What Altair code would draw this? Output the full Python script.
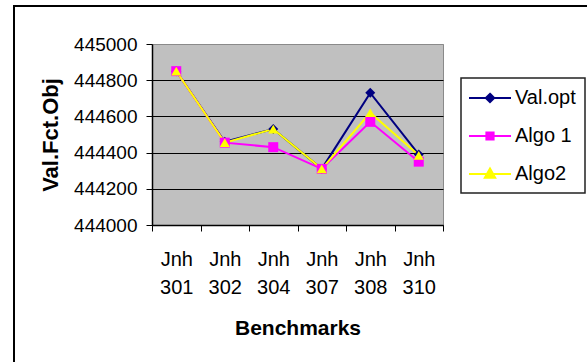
import altair as alt
import pandas as pd

# Benchmark instances and objective-function values per method
benchmarks = ["Jnh 301", "Jnh 302", "Jnh 304", "Jnh 307", "Jnh 308", "Jnh 310"]
val_opt = [444850, 444460, 444530, 444310, 444730, 444390]
algo_1 = [444850, 444455, 444430, 444310, 444570, 444350]
algo_2 = [444850, 444455, 444530, 444310, 444620, 444385]

series_names = ["Val.opt", "Algo 1", "Algo2"]
series_colors = ["#000080", "#FF00FF", "#FFFF00"]
marker_shapes = ["diamond", "square", "triangle-up"]
# legend glyphs: a short line with the marker in the middle
legend_shapes = [
    "M-2.1,0H2.1M0,-0.42L0.42,0L0,0.42L-0.42,0Z",
    "M-2.1,0H2.1M-0.36,-0.36H0.36V0.36H-0.36Z",
    "M-2.1,0H2.1M0,-0.55L0.52,0.38H-0.52Z",
]
y_ticks = [444000, 444200, 444400, 444600, 444800, 445000]

rows = []
for name, vals in zip(series_names, [val_opt, algo_1, algo_2]):
    for b, v in zip(benchmarks, vals):
        rows.append({"bench": b, "value": v, "series": name})
df = pd.DataFrame(rows)

FONT = "Liberation Sans"
W, H = 291, 181
PAD_L, PAD_T = 152, 44

x_enc = alt.X(
    "bench:N",
    sort=benchmarks,
    scale=alt.Scale(paddingInner=0, paddingOuter=0),
    axis=alt.Axis(
        title="Benchmarks",
        titleFont=FONT, titleFontSize=21, titleFontWeight="bold",
        titleY=103, titleBaseline="middle",
        labelFont=FONT, labelFontSize=20, labelColor="black",
        labelExpr="split(datum.label, ' ')", labelLineHeight=28,
        labelAngle=0, labelPadding=18,
        tickBand="extent", tickSize=6, tickColor="black",
        domainColor="black", domainWidth=1.5, grid=False,
    ),
)
y_enc = alt.Y(
    "value:Q",
    scale=alt.Scale(domain=[444000, 445000], nice=False, zero=False),
    axis=alt.Axis(
        title="Val.Fct.Obj",
        titleFont=FONT, titleFontSize=22, titleFontWeight="bold",
        titleX=-102, titleBaseline="middle",
        values=y_ticks, format="d",
        labelFont=FONT, labelFontSize=19, labelColor="black", labelPadding=9,
        tickSize=6, tickColor="black", domainColor="black", domainWidth=1.5,
        grid=True,
        gridColor={"condition": {"test": "datum.value == 445000", "value": "#8a8a8a"}, "value": "black"},
        gridWidth=1, gridOpacity=1,
    ),
)

color_scale = alt.Scale(domain=series_names, range=series_colors)

legend_props = dict(
    title=None, orient="none", legendX=309, legendY=34,
    fillColor="white", strokeColor="#222222",
    padding=9, symbolSize=400, symbolOffset=9, symbolStrokeWidth=2,
    rowPadding=17, labelOffset=14,
    labelFont=FONT, labelFontSize=20, labelColor="black",
)

base = alt.Chart(df)

lines = base.mark_line(strokeWidth=2).encode(
    x=x_enc, y=y_enc,
    color=alt.Color("series:N", scale=color_scale, legend=None),
    order=alt.Order("bench:N"),
)

points = base.mark_point(filled=True, opacity=1).encode(
    x=x_enc, y=y_enc,
    color=alt.Color("series:N", scale=color_scale, legend=None),
    shape=alt.Shape("series:N", scale=alt.Scale(domain=series_names, range=marker_shapes), legend=None),
    size=alt.value(100),
)

# legend-only layer: no rows survive the filter, the explicit domains keep the entries
legend_layer = base.transform_filter("false").mark_point(filled=True, opacity=1, strokeWidth=2).encode(
    x=x_enc, y=y_enc,
    color=alt.Color("series:N", scale=color_scale, legend=alt.Legend(**legend_props)),
    stroke=alt.Stroke("series:N", scale=color_scale, legend=alt.Legend(**legend_props)),
    shape=alt.Shape(
        "series:N",
        scale=alt.Scale(domain=series_names, range=legend_shapes),
        legend=alt.Legend(**legend_props),
    ),
)

# outer frame lines (left and top edges)
frame_df = pd.DataFrame({"k": [0]})
frame_left = alt.Chart(frame_df).mark_rule(color="black", strokeWidth=2).encode(
    x=alt.value(14 - PAD_L), y=alt.value(6 - PAD_T), y2=alt.value(370 - PAD_T)
)
frame_top = alt.Chart(frame_df).mark_rule(color="black", strokeWidth=2).encode(
    x=alt.value(13 - PAD_L), x2=alt.value(600 - PAD_L), y=alt.value(6 - PAD_T)
)

chart = (
    alt.layer(lines, points, legend_layer, frame_left, frame_top)
    .resolve_scale(color="independent", shape="independent", stroke="independent")
    .properties(
        width=W, height=H,
        autosize=alt.AutoSizeParams(type="none"),
        padding={"left": PAD_L, "top": PAD_T, "right": 587 - PAD_L - W, "bottom": 362 - PAD_T - H},
        background="white",
    )
    .configure_view(fill="#C0C0C0", stroke="#8a8a8a", strokeWidth=1)
    .configure_legend(strokeWidth=1.5)
)

chart.save("out.html", embed_options={"renderer": "svg", "actions": False})
